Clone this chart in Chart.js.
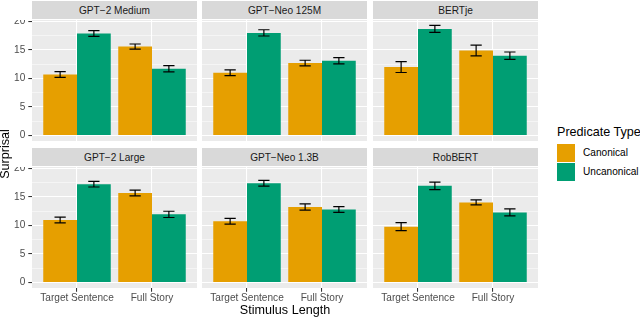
<!DOCTYPE html>
<html>
<head>
<meta charset="utf-8">
<script src="https://cdn.jsdelivr.net/npm/chart.js@4.4.1/dist/chart.umd.min.js"></script>
<style>
  html, body { margin: 0; padding: 0; background: #ffffff; }
  body { width: 640px; height: 318px; overflow: hidden; position: relative;
         font-family: "Liberation Sans", Arial, Helvetica, sans-serif; }
  canvas { position: absolute; }
  .strip { position: absolute; background: #D9D9D9; color: #1A1A1A; font-size: 10.1px;
           text-align: center; white-space: nowrap; }
  .txt { position: absolute; white-space: nowrap; }
</style>
</head>
<body>
<script>
// ---------------- data ----------------
const models = ['GPT−2 Medium', 'GPT−Neo 125M', 'BERTje', 'GPT−2 Large', 'GPT−Neo 1.3B', 'RobBERT'];
const stimulusLengths = ['Target Sentence', 'Full Story'];
const predicateTypes = ['Canonical', 'Uncanonical'];
// mean surprisal per model: [Target Sentence, Full Story]
const canonicalMean   = [[10.7, 15.6], [11.0, 12.7], [12.0, 14.9], [10.95, 15.7], [10.75, 13.25], [9.8, 14.05]];
const canonicalErr    = [[0.5, 0.45], [0.5, 0.5], [0.95, 0.95], [0.5, 0.5], [0.5, 0.55], [0.7, 0.45]];
const uncanonicalMean = [[17.9, 11.7], [18.0, 13.1], [18.7, 14.0], [17.25, 11.95], [17.4, 12.8], [16.95, 12.3]];
const uncanonicalErr  = [[0.5, 0.55], [0.55, 0.55], [0.6, 0.65], [0.5, 0.55], [0.5, 0.5], [0.65, 0.6]];
const yTicks = [0, 5, 10, 15, 20];
const yMinorTicks = [2.5, 7.5, 12.5, 17.5];
const seriesColors = ['#E69F00', '#009E73'];

// ---------------- layout ----------------
const FONT = '"Liberation Sans", Arial, Helvetica, sans-serif';
const panelX = [32, 202, 373];
const panelW = 165;
const panelY = [20, 167];
const panelH = 121;
const yAxisW = 32;
const xAxisH = 18;
const Y_MIN = -0.965, Y_MAX = 20.26;
const X_MIN = 0.4, X_MAX = 2.6;
const WHISKER = 0.15;

const panelPlugin = {
  id: 'panelBgAndErrors',
  beforeDraw(chart) {
    const { ctx, chartArea: a } = chart;
    ctx.save();
    ctx.fillStyle = '#EBEBEB';
    ctx.fillRect(a.left, a.top, a.right - a.left, a.bottom - a.top);
    ctx.restore();
  },
  afterDatasetsDraw(chart) {
    const ctx = chart.ctx, xs = chart.scales.x, ys = chart.scales.y;
    ctx.save();
    ctx.strokeStyle = '#000000';
    ctx.lineWidth = 1.2;
    chart.data.datasets.forEach((ds, i) => {
      const meta = chart.getDatasetMeta(i);
      meta.data.forEach((bar, j) => {
        const v = ds.data[j].y, e = ds.errors[j];
        const half = (xs.getPixelForValue(1 + WHISKER / 2) - xs.getPixelForValue(1));
        const x = bar.x;
        const yT = ys.getPixelForValue(v + e), yB = ys.getPixelForValue(v - e);
        ctx.beginPath();
        ctx.moveTo(x - half, yT); ctx.lineTo(x + half, yT);
        ctx.moveTo(x, yT); ctx.lineTo(x, yB);
        ctx.moveTo(x - half, yB); ctx.lineTo(x + half, yB);
        ctx.stroke();
      });
    });
    ctx.restore();
  }
};

models.forEach((name, k) => {
  const col = k % 3, row = Math.floor(k / 3);
  const isLeft = col === 0, isBottom = row === 1;

  // strip
  const strip = document.createElement('div');
  strip.className = 'strip';
  strip.style.left = panelX[col] + 'px';
  strip.style.width = panelW + 'px';
  strip.style.top = (panelY[row] - 19) + 'px';
  strip.style.height = '18px';
  strip.style.lineHeight = '19px';
  strip.textContent = name;
  document.body.appendChild(strip);

  // canvas
  const cv = document.createElement('canvas');
  const left = isLeft ? 0 : panelX[col];
  const w = panelW + (isLeft ? yAxisW : 0);
  const h = panelH + (isBottom ? xAxisH : 0);
  cv.width = w; cv.height = h;
  cv.style.left = left + 'px';
  cv.style.top = panelY[row] + 'px';
  cv.style.width = w + 'px';
  cv.style.height = h + 'px';
  document.body.appendChild(cv);

  const datasets = [
    { label: predicateTypes[0], data: canonicalMean[k].map((v, i) => ({ x: i + 1, y: v })),
      errors: canonicalErr[k], backgroundColor: seriesColors[0] },
    { label: predicateTypes[1], data: uncanonicalMean[k].map((v, i) => ({ x: i + 1, y: v })),
      errors: uncanonicalErr[k], backgroundColor: seriesColors[1] }
  ];

  new Chart(cv, {
    type: 'bar',
    data: { datasets },
    plugins: [panelPlugin],
    options: {
      responsive: false,
      animation: false,
      devicePixelRatio: 1,
      layout: { padding: 0 },
      datasets: { bar: { categoryPercentage: 0.9, barPercentage: 1.0, borderWidth: 0 } },
      plugins: { legend: { display: false }, tooltip: { enabled: false }, title: { display: false } },
      scales: {
        x: {
          type: 'linear', min: X_MIN, max: X_MAX, offset: false,
          afterBuildTicks: (s) => { s.ticks = stimulusLengths.map((_, i) => ({ value: i + 1 })); },
          afterFit: (s) => { s.height = isBottom ? xAxisH : 0; s.paddingLeft = 0; s.paddingRight = 0; },
          border: { display: false },
          grid: { offset: false, color: '#FFFFFF', lineWidth: 1.07, drawTicks: isBottom,
                  tickLength: 3.7, tickColor: '#333333', tickWidth: 1.07 },
          ticks: { display: isBottom, padding: 0, color: '#4D4D4D', maxRotation: 0, autoSkip: false,
                   font: { family: FONT, size: 10.1 },
                   callback: (v) => stimulusLengths[Math.round(v) - 1] }
        },
        y: {
          type: 'linear', min: Y_MIN, max: Y_MAX,
          afterBuildTicks: (s) => {
            s.ticks = yTicks.concat(yMinorTicks).sort((a, b) => a - b).map(v => ({ value: v }));
          },
          afterFit: (s) => { s.width = isLeft ? yAxisW : 0; s.paddingTop = 0; s.paddingBottom = 0; },
          border: { display: false },
          grid: {
            color: '#FFFFFF',
            lineWidth: (c) => (c.tick && c.tick.value % 5 === 0) ? 1.07 : 0.53,
            drawTicks: isLeft, tickLength: 3.7, tickWidth: 1.07,
            tickColor: (c) => (c.tick && c.tick.value % 5 === 0) ? '#333333' : 'rgba(0,0,0,0)'
          },
          ticks: { display: isLeft, padding: 3, color: '#4D4D4D', autoSkip: false,
                   font: { family: FONT, size: 10.1 },
                   callback: (v) => (v % 5 === 0 ? String(v) : '') }
        }
      }
    }
  });
});

// axis titles
function addText(text, css) {
  const d = document.createElement('div');
  d.className = 'txt';
  d.textContent = text;
  Object.assign(d.style, css);
  document.body.appendChild(d);
  return d;
}
addText('Stimulus Length', { left: '185px', width: '200px', textAlign: 'center', top: '303px',
  height: '14px', lineHeight: '14px', fontSize: '12.6px', color: '#000' });
addText('Surprisal', { left: (5 - 100) + 'px', width: '200px', textAlign: 'center', top: (154 - 7) + 'px',
  height: '14px', lineHeight: '14px', fontSize: '12.6px', color: '#000', transform: 'rotate(-90deg)' });

// legend
addText('Predicate Type', { left: '557px', top: (132 - 7) + 'px', height: '14px', lineHeight: '14px',
  fontSize: '12.6px', color: '#000' });
predicateTypes.forEach((p, i) => {
  const key = document.createElement('div');
  Object.assign(key.style, { position: 'absolute', left: '557px', top: (144 + i * 19) + 'px',
    width: '18px', height: '18px', background: seriesColors[i] });
  document.body.appendChild(key);
  addText(p, { left: '583px', top: (153.3 + i * 19 - 6) + 'px', height: '12px', lineHeight: '12px',
    fontSize: '10.1px', color: '#000' });
});
</script>
</body>
</html>
